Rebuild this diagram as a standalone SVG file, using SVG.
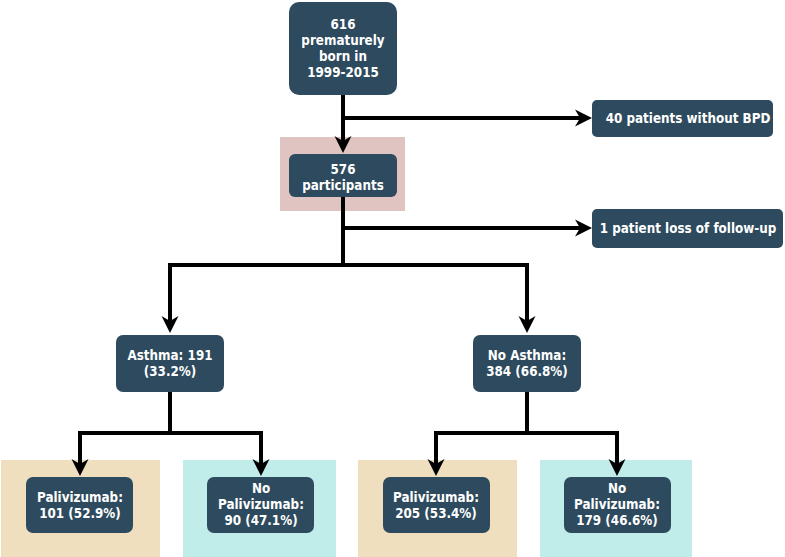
<svg xmlns="http://www.w3.org/2000/svg" width="785" height="557" viewBox="0 0 785 557">
<style>
.node rect.box{fill:#2d4a5e;}
.node text{fill:#ffffff;font-family:"DejaVu Sans Condensed","DejaVu Sans",Verdana,sans-serif;font-stretch:condensed;font-weight:bold;font-size:13.3px;text-anchor:middle;}
.conn path{fill:none;stroke:#000;stroke-width:4;stroke-linejoin:miter;}
</style>
<defs>
<marker id="arr" viewBox="0 -9 17 18" refX="7" refY="0" markerWidth="17" markerHeight="18" markerUnits="userSpaceOnUse" orient="auto">
<path d="M0,-8.5 L17,0 L0,8.5 L5,0 Z" fill="#000"/>
</marker>
</defs>
<rect x="0" y="0" width="785" height="557" fill="#ffffff"/>
<g id="backgrounds">
<rect x="280" y="137" width="125" height="74" fill="#dfc4c1"/>
<rect x="1" y="460" width="159" height="97" fill="#f0dfbf"/>
<rect x="183" y="460" width="153" height="97" fill="#c0ece9"/>
<rect x="358" y="460" width="159" height="97" fill="#f0dfbf"/>
<rect x="540" y="460" width="152" height="97" fill="#c0ece9"/>
</g>
<g id="connectors" class="conn">
<path d="M343,95 V143" marker-end="url(#arr)"/>
<path d="M343,118 H582" marker-end="url(#arr)"/>
<path d="M343,197 V265"/>
<path d="M343,228 H582" marker-end="url(#arr)"/>
<path d="M343,265 H170 V323" marker-end="url(#arr)"/>
<path d="M343,265 H527 V323" marker-end="url(#arr)"/>
<path d="M170,392 V433"/>
<path d="M170,433 H80 V466" marker-end="url(#arr)"/>
<path d="M170,433 H261 V466" marker-end="url(#arr)"/>
<path d="M527,392 V433"/>
<path d="M527,433 H436 V466" marker-end="url(#arr)"/>
<path d="M527,433 H617 V466" marker-end="url(#arr)"/>
</g>
<g id="n616" class="node">
<rect class="box" x="289" y="2" width="108" height="93" rx="10"/>
<text x="343" y="29">616</text>
<text x="343" y="45">prematurely</text>
<text x="343" y="61">born in</text>
<text x="343" y="77">1999-2015</text>
</g>
<g id="n576" class="node">
<rect class="box" x="289" y="154" width="108" height="43" rx="6"/>
<text x="343" y="174">576</text>
<text x="343" y="190">participants</text>
</g>
<g id="n40" class="node">
<rect class="box" x="592" y="100" width="181" height="37" rx="5"/>
<text x="688" y="123">40 patients without BPD</text>
</g>
<g id="n1" class="node">
<rect class="box" x="592" y="209" width="191" height="39" rx="5"/>
<text x="688" y="233">1 patient loss of follow-up</text>
</g>
<g id="nAsthma" class="node">
<rect class="box" x="116" y="335" width="108" height="57" rx="7"/>
<text x="170" y="360">Asthma: 191</text>
<text x="170" y="376">(33.2%)</text>
</g>
<g id="nNoAsthma" class="node">
<rect class="box" x="473" y="335" width="108" height="57" rx="7"/>
<text x="527" y="360">No Asthma:</text>
<text x="527" y="376">384 (66.8%)</text>
</g>
<g id="nP1" class="node">
<rect class="box" x="26" y="477" width="107" height="56" rx="7"/>
<text x="80" y="502">Palivizumab:</text>
<text x="80" y="518">101 (52.9%)</text>
</g>
<g id="nNP1" class="node">
<rect class="box" x="207" y="477" width="107" height="56" rx="7"/>
<text x="261" y="493">No</text>
<text x="261" y="509">Palivizumab:</text>
<text x="261" y="525">90 (47.1%)</text>
</g>
<g id="nP2" class="node">
<rect class="box" x="383" y="477" width="107" height="56" rx="7"/>
<text x="436" y="502">Palivizumab:</text>
<text x="436" y="518">205 (53.4%)</text>
</g>
<g id="nNP2" class="node">
<rect class="box" x="564" y="477" width="107" height="56" rx="7"/>
<text x="617" y="493">No</text>
<text x="617" y="509">Palivizumab:</text>
<text x="617" y="525">179 (46.6%)</text>
</g>
</svg>
